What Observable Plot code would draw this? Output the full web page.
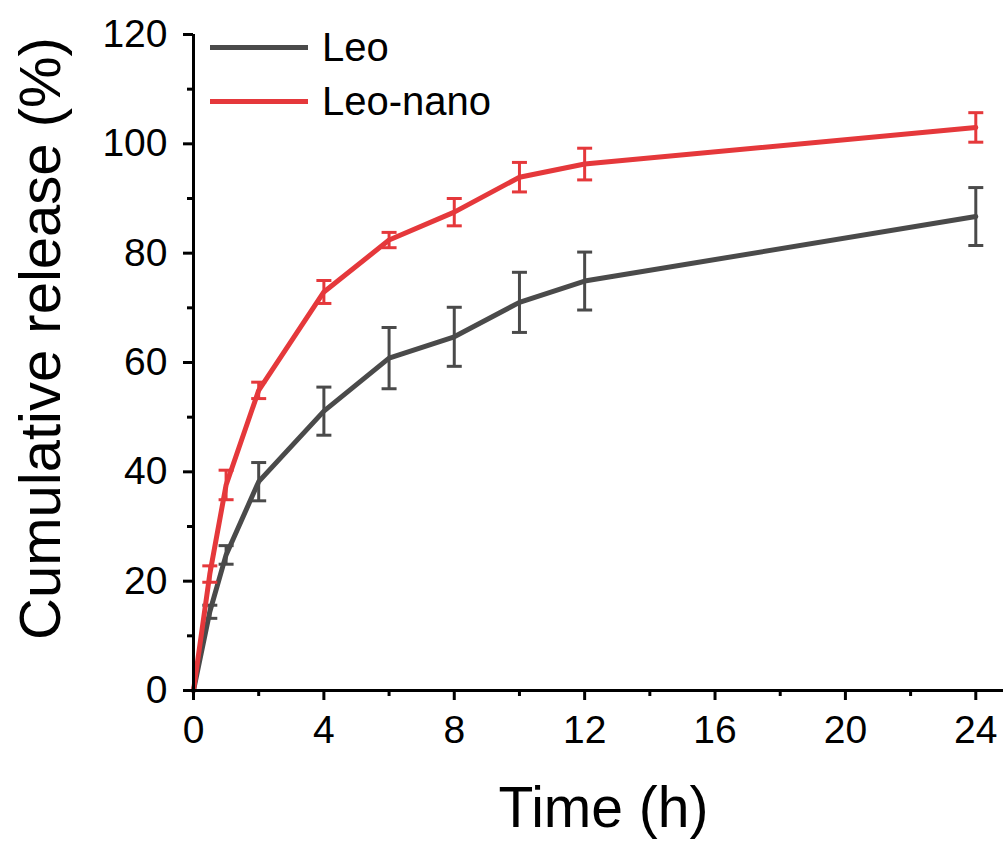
<!DOCTYPE html>
<html><head><meta charset="utf-8">
<script src="https://cdn.jsdelivr.net/npm/d3@7"></script>
<script src="https://cdn.jsdelivr.net/npm/@observablehq/plot@0.6"></script>
<style>
body{margin:0;background:#fff;}
#wrap{position:relative;width:1003px;height:843px;font-family:"Liberation Sans",Arial,sans-serif;}
#legend{position:absolute;left:210px;top:20px;}
.row{display:flex;align-items:center;height:54px;}
.sw{width:98px;height:5px;}
.lab{margin-left:14px;font-size:40px;color:#000;line-height:54px;}
</style></head><body><div id="wrap"><div id="legend"></div></div>
<script>
const times = [0, 0.5, 1, 2, 4, 6, 8, 10, 12, 24];
const seriesNames = ["Leo", "Leo-nano"];
const seriesColors = ["#4a4a4a", "#e5383b"];
const leoMean = [0, 14.4, 24.8, 38.2, 51.1, 60.8, 64.7, 71.0, 74.9, 86.7];
const leoSD = [0, 1.2, 1.7, 3.5, 4.4, 5.6, 5.4, 5.5, 5.3, 5.3];
const nanoMean = [0, 21.3, 37.6, 54.9, 72.9, 82.4, 87.5, 93.9, 96.3, 103.0];
const nanoSD = [0, 1.5, 2.7, 1.5, 2.1, 1.4, 2.5, 2.7, 2.9, 2.7];
const xTicks = [0, 4, 8, 12, 16, 20, 24];
const xMinorTicks = [2, 6, 10, 14, 18, 22];
const yTicks = [0, 20, 40, 60, 80, 100, 120];
const yMinorTicks = [10, 30, 50, 70, 90, 110];
const xLabel = "Time (h)";
const yLabel = "Cumulative release (%)";

const means = [leoMean, nanoMean];
const sds = [leoSD, nanoSD];
const rows = [];
seriesNames.forEach((s, i) => {
  times.forEach((t, j) => rows.push({series: s, t, v: means[i][j], sd: sds[i][j], lo: means[i][j] - sds[i][j], hi: means[i][j] + sds[i][j]}));
});

const capSymbol = {draw(ctx, size) { const w = Math.sqrt(size / Math.PI); ctx.moveTo(-w, 0); ctx.lineTo(w, 0); }};

const seriesMarks = seriesNames.flatMap((s) => {
  const d = rows.filter(r => r.series === s);
  const b = d.filter(r => r.sd > 0);
  return [
    Plot.ruleX(b, {x: "t", y1: "lo", y2: "hi", stroke: "series", strokeWidth: 3}),
    Plot.dot(b, {x: "t", y: "lo", symbol: capSymbol, r: 7.5, stroke: "series", fill: "none", strokeWidth: 3}),
    Plot.dot(b, {x: "t", y: "hi", symbol: capSymbol, r: 7.5, stroke: "series", fill: "none", strokeWidth: 3}),
    Plot.line(d, {x: "t", y: "v", stroke: "series", strokeWidth: 5})
  ];
});

const chart = Plot.plot({
  width: 1003, height: 843,
  marginLeft: 193, marginRight: 0, marginTop: 34, marginBottom: 153,
  style: {fontFamily: '"Liberation Sans", Arial, sans-serif', color: "#000", background: "#fff"},
  x: {domain: [0, 24.85]},
  y: {domain: [0, 120]},
  color: {domain: seriesNames, range: seriesColors},
  marks: [
    ...seriesMarks,
    Plot.axisX(xTicks, {tickSize: 10, tickPadding: 15, strokeWidth: 3, fontSize: 39, label: null}),
    Plot.axisX(xMinorTicks, {tickSize: 6, strokeWidth: 3, text: null, label: null}),
    Plot.axisY(yTicks, {tickSize: 10, tickPadding: 16, strokeWidth: 3, fontSize: 39, label: null}),
    Plot.axisY(yMinorTicks, {tickSize: 6, strokeWidth: 3, text: null, label: null}),
    Plot.ruleX([0], {strokeWidth: 3}),
    Plot.ruleY([0], {strokeWidth: 3}),
    Plot.text([yLabel], {frameAnchor: "left", textAnchor: "middle", lineAnchor: "middle", rotate: -90, dx: -152, dy: -24, fontSize: 58}),
    Plot.text([xLabel], {frameAnchor: "bottom", textAnchor: "middle", lineAnchor: "middle", dx: 5, dy: 118, fontSize: 57})
  ]
});
const wrap = document.getElementById("wrap");
wrap.insertBefore(chart, wrap.firstChild);

const legend = document.getElementById("legend");
seriesNames.forEach((s, i) => {
  const row = document.createElement("div");
  row.className = "row";
  const sw = document.createElement("div");
  sw.className = "sw";
  sw.style.background = seriesColors[i];
  const lab = document.createElement("span");
  lab.className = "lab";
  lab.textContent = s;
  row.appendChild(sw); row.appendChild(lab);
  legend.appendChild(row);
});
</script></body></html>
